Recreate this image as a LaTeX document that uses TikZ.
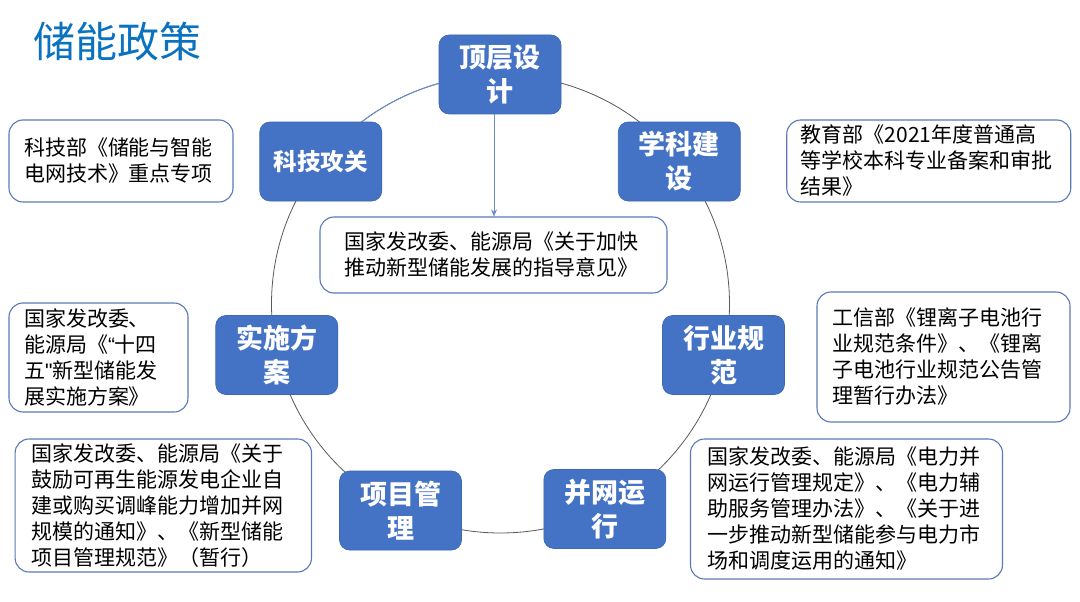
\documentclass[tikz,border=0pt]{standalone}
\usepackage{fontspec}
\setmainfont{Noto Sans CJK SC}
\newfontfamily\cjk{Noto Sans CJK SC}
\newfontfamily\latin{Liberation Sans}
\usetikzlibrary{arrows.meta}
\definecolor{boxblue}{HTML}{4472C4}
\definecolor{edgeblue}{HTML}{5B79B8}
\definecolor{titleblue}{HTML}{0A72BE}
\definecolor{ringgrey}{HTML}{595959}
\definecolor{linkblue}{HTML}{6A8ED0}
\tikzset{
  hub/.style={draw=boxblue!90!black, line width=0.6pt, fill=boxblue, rounded corners=10pt,
    text=white, align=center, inner sep=0pt, minimum width=122pt, minimum height=79pt,
    font=\cjk\bfseries\fontsize{27}{34}\selectfont},
  note/.style={draw=edgeblue, line width=1.1pt, fill=white, rounded corners=14pt,
    text=black, align=left, inner xsep=15pt, inner ysep=0pt,
    font=\cjk\fontsize{21}{26}\selectfont},
  ring/.style={draw=ringgrey, line width=0.8pt},
  link/.style={draw=linkblue, line width=0.9pt}
}
\begin{document}
\begin{tikzpicture}[x=1pt,y=-1pt]
\useasboundingbox (0,0) rectangle (1080,602);
\fill[white] (0,0) rectangle (1080,602);
% ring
\coordinate (c) at (500.5,304);
\draw[ring] (c) circle[radius=229];
\draw[link] ([shift={(228:229)}]c) arc[start angle=228, end angle=262, radius=229];
% title
\node[text=titleblue, font=\cjk\fontsize{42}{48}\selectfont] (title) at (118,41) {储能政策};
% hubs
\node[hub] (top) at (500,74.5) {顶层设\\计};
\node[hub, font=\cjk\bfseries\fontsize{23.5}{30}\selectfont] (kj) at (320.75,161.5) {科技攻关};
\node[hub] (xk) at (679.25,161.5) {学科建\\设};
\node[hub] (ss) at (276.75,355) {实施方\\案};
\node[hub] (hy) at (723.5,355) {行业规\\范};
\node[hub] (xm) at (400.5,510.5) {项目管\\理};
\node[hub] (bw) at (604.85,509) {并网运\\行};
% notes
\node[note, text width=194pt, minimum height=82pt] (kjb) at (121,161)
  {科技部《储能与智能\\电网技术》重点专项};
\node[note, text width=299pt, minimum height=76pt, inner xsep=24pt] (cb) at (493.5,255)
  {国家发改委、能源局《关于加快\\推动新型储能发展的指导意见》};
\node[note, text width=256pt, minimum height=82pt, inner xsep=14pt] (jyb) at (928.75,161)
  {教育部《2021年度普通高\\等学校本科专业备案和审批\\结果》};
\node[note, text width=149pt, minimum height=109pt] (ssb) at (98.5,357.5)
  {国家发改委、\\能源局《{\latin “}十四\\五{\latin "}新型储能发\\展实施方案》};
\node[note, text width=223pt, minimum height=130pt] (gxb) at (943.5,357)
  {工信部《锂离子电池行\\业规范条件》、《锂离\\子电池行业规范公告管\\理暂行办法》};
\node[note, text width=263pt, minimum height=133pt, inner xsep=16.7pt] (xmb) at (163.3,505.5)
  {国家发改委、能源局《关于\\鼓励可再生能源发电企业自\\建或购买调峰能力增加并网\\规模的通知》、《新型储能\\项目管理规范》（暂行）};
\node[note, text width=278pt, minimum height=140pt, inner xsep=17pt] (bwb) at (846.5,509)
  {国家发改委、能源局《电力并\\网运行管理规定》、《电力辅\\助服务管理办法》、《关于进\\一步推动新型储能参与电力市\\场和调度运用的通知》};
% arrow
\coordinate (as) at ([xshift=-6pt]top.south);
\draw[link, -{Stealth[length=7pt,width=6pt]}] (as) -- (as |- cb.north);
\end{tikzpicture}
\end{document}
